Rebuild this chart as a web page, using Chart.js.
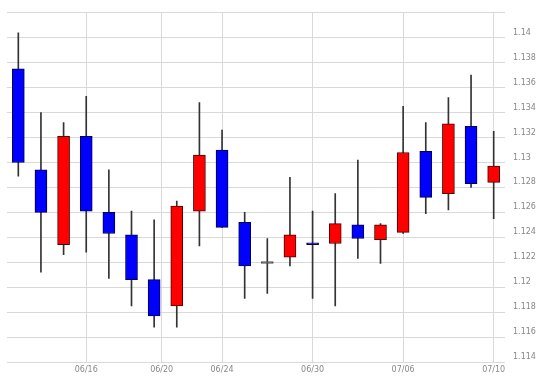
<!DOCTYPE html>
<html>
<head>
<meta charset="utf-8">
<script src="https://cdn.jsdelivr.net/npm/chart.js@4.4.1/dist/chart.umd.min.js"></script>
<style>
  html, body { margin: 0; padding: 0; background: #fff; }
  #chart { display: block; }
</style>
</head>
<body>
<canvas id="chart" width="540" height="376"></canvas>
<script>
// daily OHLC, one candle per trading day (06/11 .. 07/10)
const opens  = [1.1375, 1.1294, 1.1234, 1.1321, 1.1260, 1.1242, 1.1206, 1.1185, 1.1261, 1.1310, 1.1252,
                1.1219, 1.1224, 1.1235, 1.1235, 1.1250, 1.1238, 1.1244, 1.1309, 1.1275, 1.1329, 1.1284];
const highs  = [1.1404, 1.1340, 1.1332, 1.1353, 1.1294, 1.1261, 1.1254, 1.1269, 1.1348, 1.1326, 1.1260,
                1.1239, 1.1288, 1.1261, 1.1275, 1.1302, 1.1251, 1.1345, 1.1332, 1.1352, 1.1370, 1.1325];
const lows   = [1.1289, 1.1212, 1.1226, 1.1228, 1.1207, 1.1185, 1.1168, 1.1168, 1.1233, 1.1248, 1.1191,
                1.1195, 1.1217, 1.1191, 1.1185, 1.1223, 1.1219, 1.1243, 1.1259, 1.1262, 1.1280, 1.1255];
const closes = [1.1300, 1.1260, 1.1321, 1.1261, 1.1243, 1.1206, 1.1177, 1.1265, 1.1306, 1.1248, 1.1217,
                1.1219, 1.1242, 1.1234, 1.1251, 1.1239, 1.1250, 1.1308, 1.1272, 1.1331, 1.1283, 1.1297];

// date ticks on the trading-day axis (06/20 falls on a weekend, a third of the way past friday)
const tickLabels = ["06/16", "06/20", "06/24", "06/30", "07/06", "07/10"];
const tickIndex  = [3, 6 + 1 / 3, 9, 13, 17, 21];

const yTicks  = [1.114, 1.116, 1.118, 1.12, 1.122, 1.124, 1.126, 1.128, 1.13, 1.132, 1.134, 1.136, 1.138, 1.14, 1.142];
const yLabels = ["1.114", "1.116", "1.118", "1.12", "1.122", "1.124", "1.126", "1.128", "1.13", "1.132", "1.134", "1.136", "1.138", "1.14", ""];

const UP = "#ff0000", DOWN = "#0000ff", FLAT = "#555555";
const candleColor = (i) => closes[i] > opens[i] ? UP : closes[i] < opens[i] ? DOWN : FLAT;
const edgeColor = (i) => closes[i] > opens[i] ? "#4a0000" : closes[i] < opens[i] ? "#00004a" : FLAT;

const bodies = opens.map((o, i) => ({ x: i, y: [o, closes[i]] }));
const wicks = lows.map((l, i) => ({ x: i, y: [l, highs[i]] }));

const tickFont = { family: "'DejaVu Sans', sans-serif", size: 8 };

new Chart(document.getElementById("chart"), {
    type: "bar",
    data: {
        datasets: [
            {
                label: "body",
                data: bodies,
                backgroundColor: opens.map((_, i) => candleColor(i)),
                borderColor: opens.map((_, i) => edgeColor(i)),
                borderWidth: 1,
                borderSkipped: false,
                barThickness: 12,
                minBarLength: 2,
                grouped: false,
                order: 0,
            },
            {
                label: "wick",
                data: wicks,
                backgroundColor: "#333333",
                borderWidth: 0,
                barThickness: 1,
                grouped: false,
                order: 1,
            },
        ],
    },
    options: {
        responsive: false,
        animation: false,
        layout: { padding: { left: 7, top: 3, right: 0, bottom: 0 } },
        plugins: {
            legend: { display: false },
            tooltip: { enabled: false },
        },
        scales: {
            x: {
                type: "linear",
                min: -0.5,
                max: 21.5,
                offset: false,
                afterBuildTicks: (s) => { s.ticks = tickIndex.map((v) => ({ value: v })); },
                afterFit: (s) => { s.height = 14; },
                ticks: {
                    autoSkip: false,
                    maxRotation: 0,
                    padding: 3,
                    color: "#888888",
                    font: tickFont,
                    callback: (v, i) => tickLabels[i],
                },
                grid: { color: "#d9d9d9", drawTicks: false, offset: false },
                border: { display: false },
            },
            y: {
                position: "right",
                min: 1.114,
                max: 1.142,
                afterBuildTicks: (s) => { s.ticks = yTicks.map((v) => ({ value: v })); },
                afterFit: (s) => { s.width = 35; },
                ticks: {
                    padding: 8,
                    labelOffset: -5,
                    color: "#888888",
                    font: tickFont,
                    callback: (v, i) => yLabels[i],
                },
                grid: { color: "#d9d9d9", drawTicks: false },
                border: { display: false },
            },
        },
    },
});
</script>
</body>
</html>
